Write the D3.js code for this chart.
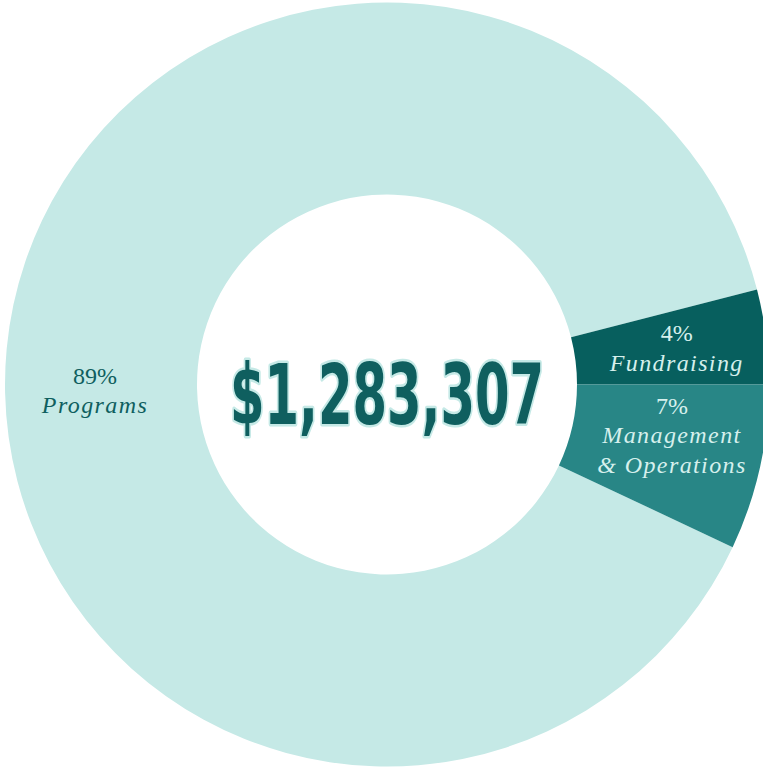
<!DOCTYPE html>
<html>
<head>
<meta charset="utf-8">
<script src="https://cdn.jsdelivr.net/npm/d3@7"></script>
<style>
  html, body { margin: 0; padding: 0; background: #fff; overflow: hidden; }
</style>
</head>
<body>
<div id="chart"></div>
<script>
// values
const categories = ["Programs", "Fundraising", "Management & Operations"];
const shares = [89, 4, 7];
const percentLabels = ["89%", "4%", "7%"];
const nameLines = [["Programs"], ["Fundraising"], ["Management", "& Operations"]];
const totalLabel = "$1,283,307";

(() => {
    const width = 763, height = 769;
    const cx = 387, cy = 384.5, outerR = 382, innerR = 190;
    const lineStep = 29.5;

    const data = categories.map((c, i) => ({ name: c, value: shares[i], pct: percentLabels[i], lines: nameLines[i] }));

    const color = d3.scaleOrdinal()
        .domain(categories)
        .range(["#c5e9e6", "#075f5e", "#288686"]);

    const textColor = d3.scaleOrdinal()
        .domain(categories)
        .range(["#0f5f5f", "#d6f0ed", "#d6f0ed"]);

    // management slice ends at 3 o'clock, so the ring starts there going backwards by 7%
    const startA = Math.PI / 2 + 0.07 * 2 * Math.PI;
    const pie = d3.pie()
        .value(d => d.value)
        .sort(null)
        .startAngle(startA)
        .endAngle(startA + 2 * Math.PI);

    const arcs = pie(data);

    const arc = d3.arc().innerRadius(innerR).outerRadius(outerR);

    const svg = d3.select("#chart")
        .append("svg")
        .attr("width", width)
        .attr("height", height);

    const g = svg.append("g")
        .attr("transform", `translate(${cx},${cy})`);

    g.selectAll(".slice")
        .data(arcs)
        .enter()
        .append("path")
        .attr("class", "slice")
        .attr("d", arc)
        .attr("fill", d => color(d.data.name));

    // label positions: middle of ring, Programs label sits at 9 o'clock
    const labelR = 292;
    const labelAngle = d => d.data.name === "Programs" ? Math.PI * 1.5 : (d.startAngle + d.endAngle) / 2;
    const nudge = { "Programs": 6, "Fundraising": 0, "Management & Operations": -13 };

    const labels = g.selectAll(".label")
        .data(arcs)
        .enter()
        .append("g")
        .attr("class", "label")
        .attr("font-family", "'Liberation Serif', 'DejaVu Serif', serif")
        .attr("font-size", 24)
        .attr("fill", d => textColor(d.data.name))
        .attr("text-anchor", "middle")
        .attr("transform", d => {
            const a = labelAngle(d);
            const n = d.data.lines.length + 1;
            const x = Math.sin(a) * labelR;
            const y = -Math.cos(a) * labelR - (n - 1) * lineStep / 2 + 8 + nudge[d.data.name];
            return `translate(${x},${y})`;
        });

    labels.append("text")
        .attr("y", 0)
        .text(d => d.data.pct);

    labels.each(function(d) {
        d3.select(this).selectAll(".ln")
            .data(d.data.lines)
            .enter()
            .append("text")
            .attr("class", "ln")
            .attr("y", (t, i) => (i + 1) * lineStep)
            .attr("font-style", "italic")
            .attr("letter-spacing", 1.4)
            .text(t => t);
    });

    // total in the hole
    g.append("text")
        .attr("x", 0)
        .attr("y", 39)
        .attr("text-anchor", "middle")
        .attr("font-family", "'DejaVu Sans Condensed', 'Liberation Sans Narrow', sans-serif")
        .attr("font-weight", "bold")
        .attr("font-size", 84)
        .attr("textLength", 314)
        .attr("lengthAdjust", "spacingAndGlyphs")
        .attr("fill", "#0f5f5f")
        .attr("stroke", "#c5e9e6")
        .attr("stroke-width", 5)
        .attr("stroke-linejoin", "round")
        .attr("paint-order", "stroke")
        .text(totalLabel);
})();
</script>
</body>
</html>
